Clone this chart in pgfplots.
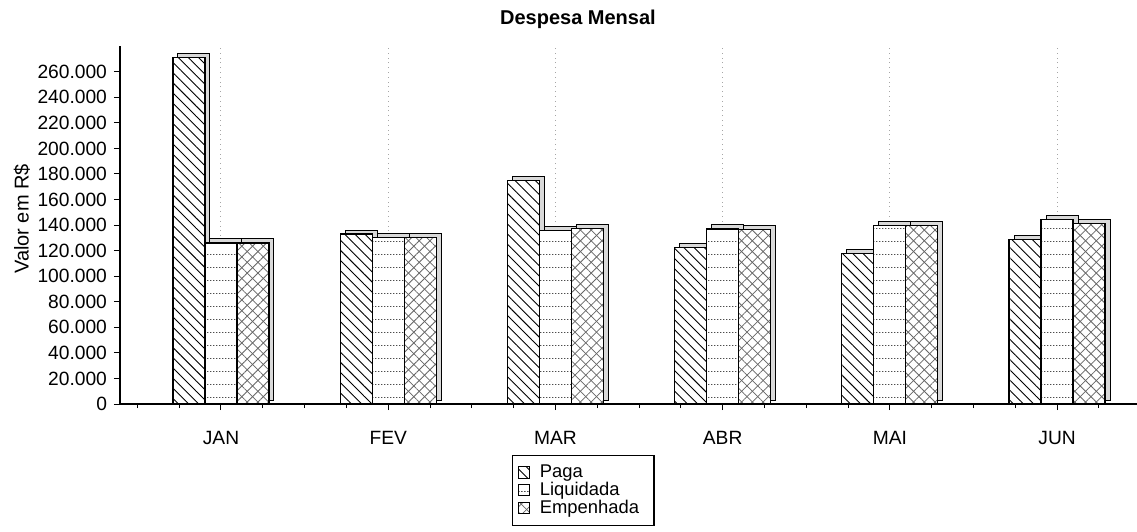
\documentclass[border=0pt]{standalone}
\usepackage{fontspec}
\setmainfont{Liberation Sans}
\usepackage{pgfplots}
\pgfplotsset{compat=1.18}
\usepackage{pgfplotstable}
\usetikzlibrary{patterns.meta}

% linhas horizontais pontilhadas (Liquidada)
\tikzdeclarepattern{
  name=pontilhado,
  type=uncolored,
  bottom left={(0pt,0pt)},
  top right={(1.4pt,6.7pt)},
  tile size={(1.4pt,6.7pt)},
  code={\fill (0pt,0pt) rectangle (0.75pt,0.5pt);}
}

\pgfplotstableread{
x paga   liq    emp
0 271000 126000 126000
1 133000 130000 130000
2 175000 135500 137500
3 122500 137000 136500
4 117500 140000 140000
5 129000 144500 141500
}\dados

\pgfplotsset{
  barra/.style={fill=white, draw=black, line width=0.6pt},
  sombra/.style={fill=gray!30, draw=black, line width=0.5pt, xshift=2.5pt, yshift=2pt, forget plot},
  paga/.style={barra, postaction={pattern={Lines[angle=-45,distance=3.6pt,line width=0.45pt]}}},
  liq/.style={barra, postaction={pattern=pontilhado, pattern color=black!70}},
  emp/.style={barra,
    postaction={pattern={Lines[angle=45,distance=3.8pt,line width=0.4pt]}, pattern color=black!60},
    postaction={pattern={Lines[angle=-45,distance=3.8pt,line width=0.4pt]}, pattern color=black!60}},
}

\begin{document}
\begin{tikzpicture}
\begin{axis}[
  scale only axis,
  width=508.5pt, height=178.9pt,
  xmin=-0.604, xmax=5.478,
  ymin=0, ymax=280000,
  ybar, bar width=16pt,
  axis x line*=bottom, axis y line*=left,
  axis line style={line width=1.4pt, black},
  xtick={0,...,5},
  xticklabels={JAN,FEV,MAR,ABR,MAI,JUN},
  minor xtick={-0.5,-0.25,...,5.5},
  ytick={0,20000,...,260000},
  scaled y ticks=false,
  yticklabel style={/pgf/number format/.cd, fixed, 1000 sep={.}, assume math mode=true},
  tick align=outside,
  major tick length=3pt, minor tick length=2pt,
  tick style={black, line width=0.5pt},
  ticklabel style={font=\fontsize{9.6}{11}\selectfont},
  xticklabel style={yshift=-7pt},
  xmajorgrids,
  major grid style={gray!70, dotted, line width=0.5pt},
  ylabel={Valor em R\$},
  ylabel style={font=\fontsize{9.2}{11}\selectfont},
  every axis y label/.style={at={(axis description cs:-0.0964,0.517)}, rotate=90, anchor=center},
  title={Despesa Mensal},
  title style={font=\fontsize{10}{12}\selectfont\bfseries, at={(axis description cs:0.4503,1)}, anchor=center, yshift=7.5pt},
  legend style={at={(axis description cs:0.3855,-0.1425)}, anchor=north west,
    draw=black, line width=0.6pt, font=\fontsize{9.2}{10}\selectfont,
    row sep=-3.2pt, inner sep=2.5pt, nodes={inner xsep=5pt}},
  legend cell align=left,
  legend image code/.code={\draw[#1, line width=0.5pt] (1pt,-2.8pt) rectangle (6.6pt,2.8pt);},
]
\addplot[sombra, bar shift=-16pt] table[x=x,y=paga]{\dados};
\addplot[paga, bar shift=-16pt] table[x=x,y=paga]{\dados};
\addlegendentry{Paga}
\addplot[sombra, bar shift=0pt] table[x=x,y=liq]{\dados};
\addplot[liq, bar shift=0pt] table[x=x,y=liq]{\dados};
\addlegendentry{Liquidada}
\addplot[sombra, bar shift=16pt] table[x=x,y=emp]{\dados};
\addplot[emp, bar shift=16pt] table[x=x,y=emp]{\dados};
\addlegendentry{Empenhada}
\end{axis}
\pgfresetboundingbox
\useasboundingbox (-60pt,-63.5pt) rectangle (508.5pt,202pt);
\end{tikzpicture}
\end{document}
